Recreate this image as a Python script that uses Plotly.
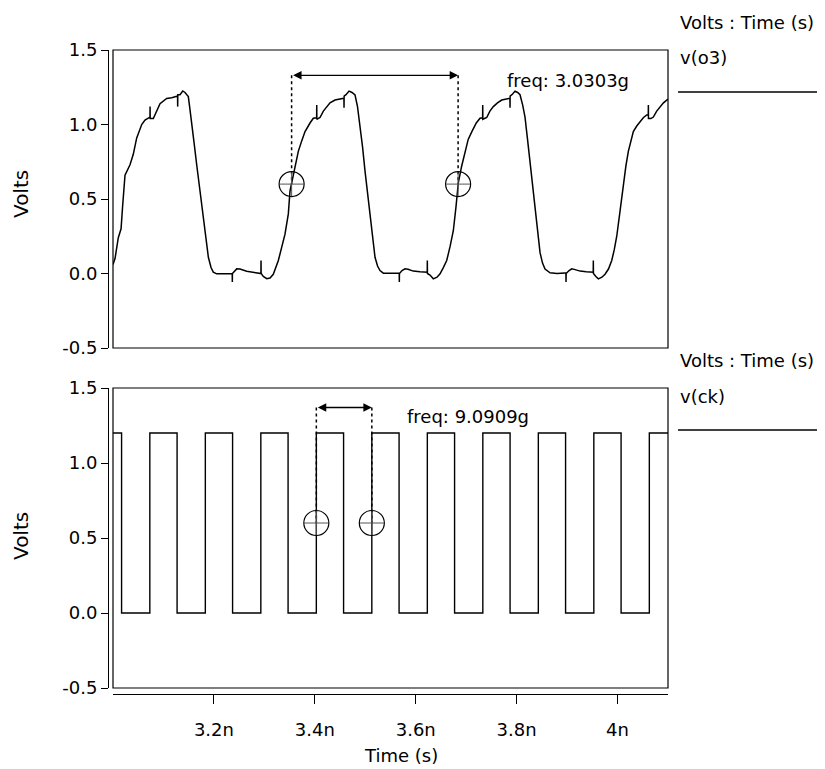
import plotly.graph_objects as go

# ---------------- data (time in ns, voltage in V) ----------------
o3_t = [3.000, 3.004, 3.0105, 3.016, 3.019, 3.0238, 3.0337, 3.0402, 3.047, 3.0569, 3.0634, 3.0700,
        3.0733, 3.0735, 3.0737, 3.0799, 3.0866, 3.0932, 3.1064, 3.1164, 3.1263,
        3.1280, 3.1282, 3.1284, 3.1328, 3.1382, 3.1427, 3.1493, 3.1526, 3.1560, 3.1606, 3.1659,
        3.1724, 3.1790, 3.1843, 3.1890, 3.1943, 3.1988, 3.2055, 3.2220,
        3.2363, 3.2365, 3.2367, 3.2452, 3.2517, 3.2650, 3.2815,
        3.2932, 3.2934, 3.2936, 3.2979, 3.3047, 3.3112, 3.3177, 3.3277, 3.3344, 3.3409, 3.3475,
        3.3508, 3.3542, 3.3608, 3.3673, 3.3740, 3.3806, 3.3905, 3.3970,
        3.4036, 3.4038, 3.4040, 3.4063, 3.4103, 3.4169, 3.4236, 3.4301, 3.4400, 3.4500, 3.4565,
        3.4577, 3.4579, 3.4581, 3.4618, 3.4678, 3.4737, 3.4797, 3.4846, 3.4896, 3.4946, 3.4995,
        3.5045, 3.5094, 3.5144, 3.5193, 3.5243, 3.5292, 3.5358, 3.5491, 3.5655,
        3.5673, 3.5675, 3.5677, 3.5729, 3.5788, 3.5848, 3.5952, 3.6085, 3.6218,
        3.6228, 3.6230, 3.6232, 3.6283, 3.6349, 3.6422, 3.6482, 3.6547, 3.6614, 3.6680, 3.6745,
        3.6799, 3.6844, 3.6910, 3.6977, 3.7040, 3.7110, 3.7200, 3.7274,
        3.7326, 3.7328, 3.7330, 3.7407, 3.7470, 3.7538, 3.7620, 3.7705, 3.7790, 3.7867,
        3.7869, 3.7871, 3.7920, 3.7968, 3.8020, 3.8067, 3.8120, 3.8166, 3.8216, 3.8266, 3.8316,
        3.8365, 3.8414, 3.8464, 3.8513, 3.8563, 3.8662, 3.8800, 3.8957,
        3.8977, 3.8979, 3.8981, 3.9040, 3.9092, 3.9160, 3.9257, 3.9380, 3.9489,
        3.9518, 3.9520, 3.9522, 3.9570, 3.9620, 3.9690, 3.9752, 3.9820, 3.9885, 3.9935, 3.9984,
        4.0050, 4.0115, 4.0165, 4.0214, 4.0265, 4.0313, 4.0380, 4.0446, 4.0510, 4.0578,
        4.0609, 4.0611, 4.0613, 4.0660, 4.0710, 4.0776, 4.0842, 4.0910, 4.0975, 4.1000]
o3_v = [0.06, 0.10, 0.24, 0.30, 0.45, 0.66, 0.73, 0.80, 0.91, 1.00, 1.03, 1.045,
        1.05, 1.12, 1.04, 1.04, 1.09, 1.14, 1.175, 1.18, 1.19,
        1.19, 1.12, 1.20, 1.20, 1.225, 1.215, 1.187, 1.10, 1.02, 0.88, 0.73,
        0.56, 0.375, 0.22, 0.109, 0.04, 0.009, -0.002, 0.0,
        0.0, -0.057, 0.0, 0.031, 0.030, 0.015, 0.005,
        0.0, 0.087, 0.0, -0.02, -0.035, -0.03, -0.005, 0.087, 0.17, 0.264, 0.40,
        0.553, 0.609, 0.72, 0.82, 0.89, 0.953, 1.01, 1.042,
        1.045, 1.131, 1.035, 1.04, 1.047, 1.09, 1.12, 1.145, 1.164, 1.172, 1.176,
        1.176, 1.113, 1.19, 1.20, 1.224, 1.215, 1.198, 1.12, 0.998, 0.85, 0.687,
        0.53, 0.376, 0.22, 0.109, 0.05, 0.02, 0.002, 0.0, 0.002,
        0.002, -0.057, 0.0, 0.02, 0.031, 0.028, 0.016, 0.012, 0.009,
        0.009, 0.087, 0.0, -0.01, -0.036, -0.025, -0.002, 0.04, 0.087, 0.18, 0.287,
        0.45, 0.609, 0.72, 0.82, 0.90, 0.95, 1.01, 1.042,
        1.045, 1.131, 1.035, 1.047, 1.09, 1.12, 1.145, 1.164, 1.172, 1.176,
        1.113, 1.19, 1.205, 1.224, 1.215, 1.20, 1.13, 1.05, 0.90, 0.75, 0.58,
        0.42, 0.27, 0.14, 0.07, 0.03, 0.005, 0.0, 0.003,
        0.003, -0.057, 0.0, 0.02, 0.031, 0.026, 0.016, 0.012, 0.009,
        0.009, 0.087, 0.0, -0.02, -0.036, -0.025, -0.005, 0.03, 0.087, 0.16, 0.25,
        0.42, 0.60, 0.72, 0.82, 0.90, 0.953, 0.99, 1.02, 1.045, 1.064,
        1.064, 1.13, 1.04, 1.04, 1.05, 1.09, 1.12, 1.145, 1.164, 1.17]

ck_t = [3.000, 3.017, 3.017, 3.073, 3.073, 3.127, 3.127, 3.183, 3.183, 3.237, 3.237, 3.293, 3.293,
        3.347, 3.347, 3.403, 3.403, 3.457, 3.457, 3.513, 3.513, 3.567, 3.567, 3.623, 3.623,
        3.677, 3.677, 3.733, 3.733, 3.787, 3.787, 3.843, 3.843, 3.897, 3.897, 3.953, 3.953,
        4.007, 4.007, 4.063, 4.063, 4.100]
ck_v = [1.2, 1.2, 0.0, 0.0, 1.2, 1.2, 0.0, 0.0, 1.2, 1.2, 0.0, 0.0, 1.2,
        1.2, 0.0, 0.0, 1.2, 1.2, 0.0, 0.0, 1.2, 1.2, 0.0, 0.0, 1.2,
        1.2, 0.0, 0.0, 1.2, 1.2, 0.0, 0.0, 1.2, 1.2, 0.0, 0.0, 1.2,
        1.2, 0.0, 0.0, 1.2, 1.2]

# cursor measurements
o3_cursor_t = [3.354, 3.684]
ck_cursor_t = [3.403, 3.513]
cursor_v = 0.6
o3_arrow_v = 1.33
ck_arrow_v = 1.37
o3_freq_label = "freq: 3.0303g"
ck_freq_label = "freq: 9.0909g"

x_tick_vals = [3.2, 3.4, 3.6, 3.8, 4.0]
x_tick_text = ["3.2n", "3.4n", "3.6n", "3.8n", "4n"]
y_tick_vals = [-0.5, 0.0, 0.5, 1.0, 1.5]
y_tick_text = ["-0.5", "0.0", "0.5", "1.0", "1.5"]
x_range = [3.0, 4.1]
y_range = [-0.5, 1.5]

# ---------------- layout helpers (page pixel -> paper) ----------------
OFF = 8                     # default body margin of the html page
W, H = 825 - OFF, 769 - OFF
def fx(p):
    return (p - OFF) / W
def fy(p):
    return 1 - (p - OFF) / H

FONT = "DejaVu Sans"
FS = 18
x_dom = [fx(113), fx(668)]
top_dom = [fy(348), fy(50)]
bot_dom = [fy(688), fy(388)]

fig = go.Figure()

fig.add_trace(go.Scatter(x=o3_t, y=o3_v, mode="lines", xaxis="x", yaxis="y",
                         line=dict(color="black", width=1.5), hoverinfo="skip"))
fig.add_trace(go.Scatter(x=ck_t, y=ck_v, mode="lines", xaxis="x2", yaxis="y2",
                         line=dict(color="black", width=1.4), hoverinfo="skip"))

# cursors: dotted verticals + circled cross markers
for ts, av, xa, ya in [(o3_cursor_t, o3_arrow_v, "x", "y"), (ck_cursor_t, ck_arrow_v, "x2", "y2")]:
    for t in ts:
        fig.add_trace(go.Scatter(x=[t, t], y=[av, cursor_v], mode="lines", xaxis=xa, yaxis=ya,
                                 line=dict(color="black", width=1.5, dash="dot"), hoverinfo="skip"))
    fig.add_trace(go.Scatter(x=ts, y=[cursor_v] * len(ts), mode="markers", xaxis=xa, yaxis=ya,
                             marker=dict(symbol="cross-thin-open", size=17, color="#555555",
                                         line=dict(color="#555555", width=1)), hoverinfo="skip"))
    fig.add_trace(go.Scatter(x=ts, y=[cursor_v] * len(ts), mode="markers", xaxis=xa, yaxis=ya,
                             marker=dict(symbol="circle-open", size=25, color="black",
                                         line=dict(color="black", width=1.2)), hoverinfo="skip"))

axis_common = dict(showgrid=False, zeroline=False, showline=True, linecolor="black", linewidth=1,
                   ticks="outside", tickcolor="black", tickwidth=1, automargin=False,
                   tickfont=dict(family=FONT, size=FS, color="black"))

fig.update_layout(
    template="none",
    width=W, height=H,
    margin=dict(l=0, r=0, t=0, b=0, pad=0, autoexpand=False),
    paper_bgcolor="white", plot_bgcolor="white",
    showlegend=False,
    xaxis=dict(domain=x_dom, range=x_range, anchor="y", visible=False, showgrid=False,
               zeroline=False, automargin=False),
    yaxis=dict(domain=top_dom, range=y_range, anchor="free", position=fx(108),
               tickvals=y_tick_vals, ticktext=y_tick_text, ticklen=7, **axis_common),
    xaxis2=dict(domain=x_dom, range=x_range, anchor="free", position=fy(694),
                tickvals=x_tick_vals, ticktext=x_tick_text, ticklen=9, ticklabelstandoff=10,
                **axis_common),
    yaxis2=dict(domain=bot_dom, range=y_range, anchor="free", position=fx(108),
                tickvals=y_tick_vals, ticktext=y_tick_text, ticklen=7, **axis_common),
)

# plot boxes
for xr, yr in [("x domain", "y domain"), ("x2 domain", "y2 domain")]:
    fig.add_shape(type="rect", xref=xr, yref=yr, x0=0, x1=1, y0=0, y1=1,
                  line=dict(color="black", width=1.2))

# right-side legend blocks
for top_px, name in [(22, "v(o3)"), (360, "v(ck)")]:
    fig.add_annotation(x=fx(678), y=fy(top_px), xref="paper", yref="paper", xanchor="left",
                       yanchor="middle", text="Volts : Time (s)", showarrow=False,
                       font=dict(family=FONT, size=FS, color="black"))
    fig.add_annotation(x=fx(678), y=fy(top_px + 36), xref="paper", yref="paper", xanchor="left",
                       yanchor="middle", text=name, showarrow=False,
                       font=dict(family=FONT, size=FS, color="black"))
    fig.add_shape(type="line", xref="paper", yref="paper", x0=fx(678), x1=1.0,
                  y0=fy(top_px + 70), y1=fy(top_px + 70), line=dict(color="black", width=1.3))

# y titles
for cy in [194, 536]:
    fig.add_annotation(x=fx(21), y=fy(cy), xref="paper", yref="paper", text="Volts",
                       textangle=-90, showarrow=False, xanchor="center", yanchor="middle",
                       font=dict(family=FONT, size=20, color="black"))
# x title
fig.add_annotation(x=fx(401), y=fy(755), xref="paper", yref="paper", text="Time (s)",
                   showarrow=False, xanchor="center", yanchor="middle",
                   font=dict(family=FONT, size=FS, color="black"))

# frequency labels
fig.add_annotation(x=fx(505), y=fy(80), xref="paper", yref="paper", text=o3_freq_label,
                   showarrow=False, xanchor="left", yanchor="middle",
                   font=dict(family=FONT, size=FS, color="black"))
fig.add_annotation(x=fx(405), y=fy(417), xref="paper", yref="paper", text=ck_freq_label,
                   showarrow=False, xanchor="left", yanchor="middle",
                   font=dict(family=FONT, size=FS, color="black"))

# double-headed measurement arrows
for ts, av, xa, ya in [(o3_cursor_t, o3_arrow_v, "x", "y"), (ck_cursor_t, ck_arrow_v, "x2", "y2")]:
    fig.add_annotation(x=ts[1], y=av, ax=ts[0], ay=av, xref=xa, yref=ya, axref=xa, ayref=ya,
                       text="", showarrow=True, arrowhead=2, arrowside="end+start",
                       arrowsize=1.3, arrowwidth=1.3, arrowcolor="black", standoff=0, startstandoff=0)

fig.write_html("out.html")
